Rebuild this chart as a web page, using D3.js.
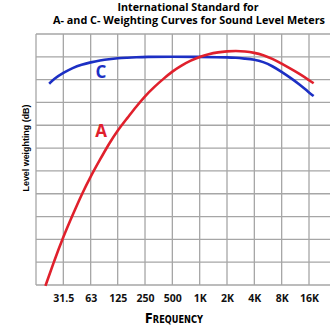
<!DOCTYPE html>
<html>
<head>
<meta charset="utf-8">
<script src="https://cdn.jsdelivr.net/npm/d3@7"></script>
<style>
body { margin: 0; background: #fff; }
svg { display: block; }
.grid line { stroke: #a6a6a6; stroke-width: 1.3; }
.tick text { font-family: "Open Sans", sans-serif; font-weight: bold; font-size: 10.5px; fill: #111; }
</style>
</head>
<body>
<svg width="330" height="330"></svg>
<script>
// tick labels on the frequency axis (octave bands)
var bandFreq = [31.5, 63, 125, 250, 500, 1000, 2000, 4000, 8000, 16000]
var bandLabel = ["31.5", "63", "125", "250", "500", "1K", "2K", "4K", "8K", "16K"]

// A-weighting (Hz, dB)
var aFreq = [20, 25, 31.5, 40, 50, 63, 80, 100, 125, 160, 200, 250, 315, 400, 500, 630, 800, 1000, 1250, 1600, 2000, 2500, 3150, 4000, 5000, 6300, 8000, 10000, 12500, 16000, 18000]
var aLevel = [-50.2, -44.7, -39.4, -34.6, -30.2, -26.2, -22.5, -19.1, -16.1, -13.4, -10.9, -8.6, -6.6, -4.8, -3.2, -1.9, -0.8, 0, 0.6, 1.0, 1.2, 1.3, 1.2, 0.9, 0.4, -0.4, -1.5, -2.6, -3.7, -5.1, -5.8]

// C-weighting (Hz, dB)
var cFreq = [22, 25, 31.5, 40, 50, 63, 80, 100, 125, 160, 200, 250, 500, 1000, 1600, 2000, 2500, 3150, 4000, 5000, 6300, 8000, 10000, 12500, 16000, 18000]
var cLevel = [-5.9, -4.8, -3.5, -2.4, -1.7, -1.2, -0.8, -0.5, -0.3, -0.2, -0.1, 0, 0, 0, -0.1, -0.1, -0.2, -0.4, -0.6, -1.1, -2.0, -3.3, -4.6, -6.0, -7.8, -8.6]

var yGrid = d3.range(-50, 6, 5)

var svg = d3.select("svg")

var x = d3.scaleLog().base(2).domain([15.75, 16000]).range([36, 309])
var y = d3.scaleLinear().domain([-50, 5]).range([285, 34])

// grid
var grid = svg.append("g").attr("class", "grid")
grid.selectAll("line.v").data([15.75].concat(bandFreq)).enter().append("line")
	.attr("class", "v")
	.attr("x1", d => x(d)).attr("x2", d => x(d))
	.attr("y1", y(5)).attr("y2", y(-50))
grid.selectAll("line.h").data(yGrid).enter().append("line")
	.attr("class", "h")
	.attr("x1", x(15.75)).attr("x2", 330)
	.attr("y1", d => y(d)).attr("y2", d => y(d))

// x axis labels
var xAxis = d3.axisBottom(x).tickValues(bandFreq).tickFormat((d, i) => bandLabel[i]).tickSize(0).tickPadding(10)
svg.append("g").attr("transform", "translate(0," + y(-50) + ")").call(xAxis)
	.call(g => g.select(".domain").remove())

var line = d3.line().x(d => x(d[0])).y(d => y(d[1])).curve(d3.curveBasis)

svg.append("path")
	.datum(d3.zip(cFreq, cLevel))
	.attr("d", line)
	.attr("fill", "none").attr("stroke", "#1c2fc4").attr("stroke-width", 2.6)

svg.append("path")
	.datum(d3.zip(aFreq, aLevel))
	.attr("d", line)
	.attr("fill", "none").attr("stroke", "#e0202c").attr("stroke-width", 2.6)

// curve labels
svg.append("text").attr("x", 101).attr("y", 78).attr("text-anchor", "middle")
	.style("font-family", "Open Sans, sans-serif").style("font-weight", "bold").style("font-size", "17px")
	.style("fill", "#1c2fc4").text("C")
svg.append("text").attr("x", 101).attr("y", 137).attr("text-anchor", "middle")
	.style("font-family", "Open Sans, sans-serif").style("font-weight", "bold").style("font-size", "17px")
	.style("fill", "#e0202c").text("A")

// titles
svg.append("text").attr("x", 188).attr("y", 11).attr("text-anchor", "middle")
	.attr("textLength", 141).attr("lengthAdjust", "spacingAndGlyphs")
	.style("font-family", "Open Sans, sans-serif").style("font-weight", "bold").style("font-size", "10.5px")
	.text("International Standard for")
svg.append("text").attr("x", 189).attr("y", 24).attr("text-anchor", "middle")
	.attr("textLength", 272).attr("lengthAdjust", "spacingAndGlyphs")
	.style("font-family", "Open Sans, sans-serif").style("font-weight", "bold").style("font-size", "10.5px")
	.text("A- and C- Weighting Curves for Sound Level Meters")

svg.append("text").attr("x", 174).attr("y", 323).attr("text-anchor", "middle")
	.attr("textLength", 58).attr("lengthAdjust", "spacingAndGlyphs")
	.style("font-family", "DejaVu Sans, sans-serif").style("font-weight", "bold").style("font-size", "14px")
	.style("font-variant", "small-caps").text("Frequency")

svg.append("text").attr("transform", "translate(29,148) rotate(-90)").attr("text-anchor", "middle")
	.attr("textLength", 87).attr("lengthAdjust", "spacingAndGlyphs")
	.style("font-family", "Liberation Sans, Arial, sans-serif").style("font-weight", "bold").style("font-size", "9.5px")
	.text("Level weighting (dB)")
</script>
</body>
</html>
